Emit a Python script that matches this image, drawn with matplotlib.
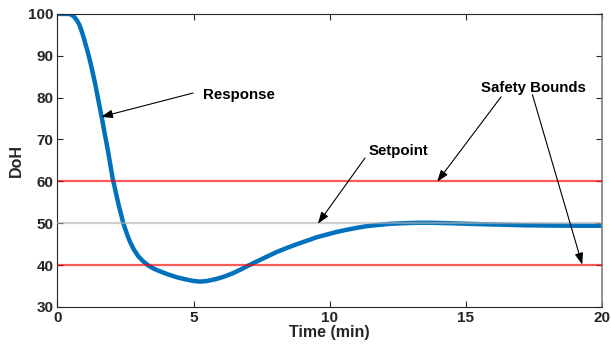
import matplotlib
matplotlib.use("Agg")
import matplotlib.pyplot as plt

plt.rcParams['font.family'] = ['Liberation Sans', 'DejaVu Sans']

# response
t = [0, 0.2, 0.35, 0.45, 0.52, 0.6, 0.7, 0.8, 0.89, 0.98, 1.07, 1.15, 1.23, 1.38,
     1.62, 1.87, 2.02, 2.24, 2.42, 2.55, 2.67, 2.8, 2.97, 3.15, 3.34, 3.55, 3.77,
     4.05, 4.38, 4.7, 5.0, 5.24, 5.5, 5.85, 6.15, 6.46, 6.75, 7.08, 7.4, 7.69, 8.05,
     8.43, 8.8, 9.16, 9.5, 9.9, 10.25, 10.6, 11.0, 11.37, 11.8, 12.2, 12.7, 13.2,
     13.8, 14.4, 15.4, 16.3, 17.2, 18.0, 19.0, 20.0]
doh = [100, 100, 100, 99.95, 99.8, 99.4, 98.6, 97.5, 95.9, 94.0, 91.9, 90.0, 87.9, 83.5,
       75.5, 66.8, 61.0, 54.6, 50.0, 47.5, 45.5, 43.8, 42.1, 40.9, 39.9, 39.1, 38.5,
       37.8, 37.1, 36.6, 36.2, 36.05, 36.2, 36.7, 37.3, 38.1, 39.0, 40.1, 41.1, 42.0, 43.1,
       44.1, 45.0, 45.8, 46.6, 47.3, 47.9, 48.4, 48.9, 49.3, 49.6, 49.85, 50.0, 50.1,
       50.1, 50.0, 49.8, 49.65, 49.5, 49.45, 49.4, 49.4]

setpoint = 50
bounds = [40, 60]
xlim = [0, 20]
ylim = [30, 100]

fig = plt.figure(figsize=(6.11, 3.48), dpi=100)
ax = fig.add_axes([0.094, 0.118, 0.891, 0.842])

ax.plot(t, doh, color='#0072BD', lw=3.2, zorder=2,
        solid_joinstyle='round', solid_capstyle='round')
ax.axhline(setpoint, color='#b0b0b0', lw=1.6, alpha=0.6, zorder=3)
for b in bounds:
    ax.axhline(b, color='red', lw=1.6, alpha=0.65, zorder=3)

ax.set_xlim(xlim)
ax.set_ylim(ylim)
ax.set_xticks([0, 5, 10, 15, 20])
ax.set_yticks([30, 40, 50, 60, 70, 80, 90, 100])
ax.tick_params(direction='in', top=True, right=True, length=4, width=0.8,
               colors='#262626', labelsize=11, pad=3)
for lab in ax.get_xticklabels() + ax.get_yticklabels():
    lab.set_fontweight('bold')
for s in ax.spines.values():
    s.set_color('#262626')
    s.set_linewidth(0.8)
ax.spines['right'].set_color('#808080')
ax.spines['right'].set_linewidth(1.2)

ax.set_xlabel('Time (min)', fontsize=11.5, fontweight='bold', color='#262626', labelpad=0)
ax.set_ylabel('DoH', fontsize=11.5, fontweight='bold', color='#262626', labelpad=3)

arrow = dict(arrowstyle='-|>, head_length=0.7, head_width=0.25', color='black', lw=0.8,
             shrinkA=0, shrinkB=0)
txt = dict(fontsize=10.8, fontweight='bold', color='black')

ax.annotate('', xy=(1.6, 75.4), xytext=(4.98, 81.1), arrowprops=arrow)
ax.text(5.35, 80.7, 'Response', ha='left', va='center', **txt)

ax.annotate('', xy=(9.57, 49.9), xytext=(11.3, 65.6), arrowprops=arrow)
ax.text(11.42, 67.3, 'Setpoint', ha='left', va='center', **txt)

ax.annotate('', xy=(13.95, 59.9), xytext=(16.3, 80.2), arrowprops=arrow)
ax.annotate('', xy=(19.28, 40.1), xytext=(17.45, 80.7), arrowprops=arrow)
ax.text(17.5, 82.4, 'Safety Bounds', ha='center', va='center', **txt)

fig.savefig('out.png', dpi=100)
